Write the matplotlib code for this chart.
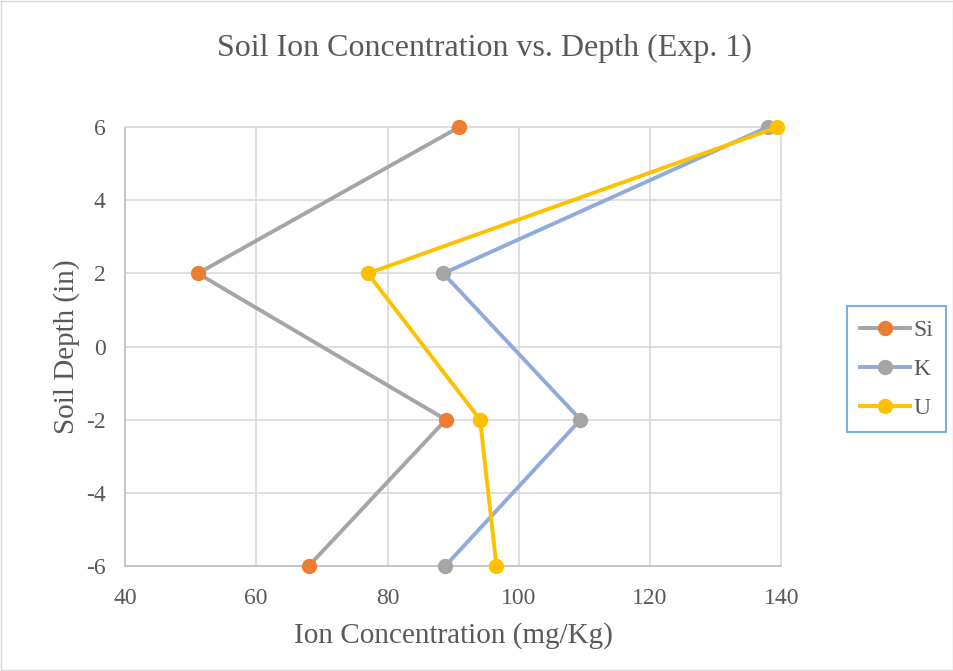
import matplotlib
matplotlib.use("Agg")
import matplotlib.pyplot as plt

depth = [6, 2, -2, -6]
si = [90.9, 51.1, 88.9, 68.0]
k = [137.9, 88.5, 109.4, 88.8]
u = [139.4, 77.0, 94.1, 96.6]
xticks = [40, 60, 80, 100, 120, 140]
yticks = [-6, -4, -2, 0, 2, 4, 6]

plt.rcParams['font.family'] = ['Liberation Serif', 'DejaVu Serif']
plt.rcParams['axes.unicode_minus'] = False

fig = plt.figure(figsize=(9.54, 6.71), dpi=100)
fig.patches.append(plt.Rectangle((0.001, 0.001), 0.998, 0.998, transform=fig.transFigure,
                                 fill=False, edgecolor='#D9D9D9', linewidth=1))
ax = fig.add_axes([0.131, 0.1565, 0.688, 0.654])

common = dict(lw=2.8, marker='o', ms=10, clip_on=False)
ax.plot(si, depth, color='#A5A5A5', mfc='#ED7D31', mec='#ED7D31', label='Si', zorder=3, **common)
ax.plot(k, depth, color='#8FAADC', mfc='#A5A5A5', mec='#A5A5A5', label='K', zorder=4, **common)
ax.plot(u, depth, color='#FFC000', mfc='#FFC000', mec='#FFC000', label='U', zorder=5, **common)

ax.set_xlim(40, 140)
ax.set_ylim(-6, 6)
ax.set_xticks(xticks)
ax.set_yticks(yticks)
ax.grid(True, color='#D9D9D9', lw=1.2)
ax.set_axisbelow(True)
for s in ax.spines.values():
    s.set_color('#D9D9D9')
    s.set_linewidth(1.2)
ax.spines['bottom'].set_color('#BFBFBF')
ax.spines['left'].set_color('#BFBFBF')
ax.tick_params(axis='both', length=0, labelsize=17, colors='#595959')
ax.tick_params(axis='x', pad=16)
ax.tick_params(axis='y', pad=14)

ax.set_xlabel('Ion Concentration (mg/Kg)', fontsize=21, color='#595959', labelpad=9)
ax.set_ylabel('Soil Depth (in)', fontsize=21, color='#595959', labelpad=4)
fig.text(0.508, 0.928, 'Soil Ion Concentration vs. Depth (Exp. 1)', ha='center', va='center',
         fontsize=23, color='#595959')

leg = ax.legend(loc='center left', bbox_to_anchor=(1.10, 0.448), frameon=True,
                fontsize=17, handlelength=2.1, borderpad=0.55, labelspacing=0.75,
                fancybox=False, handletextpad=0.15, borderaxespad=0)
leg.get_frame().set_edgecolor('#5B9BD5')
leg.get_frame().set_linewidth(1.5)
for t in leg.get_texts():
    t.set_color('#595959')

fig.savefig('out.png', dpi=100)
